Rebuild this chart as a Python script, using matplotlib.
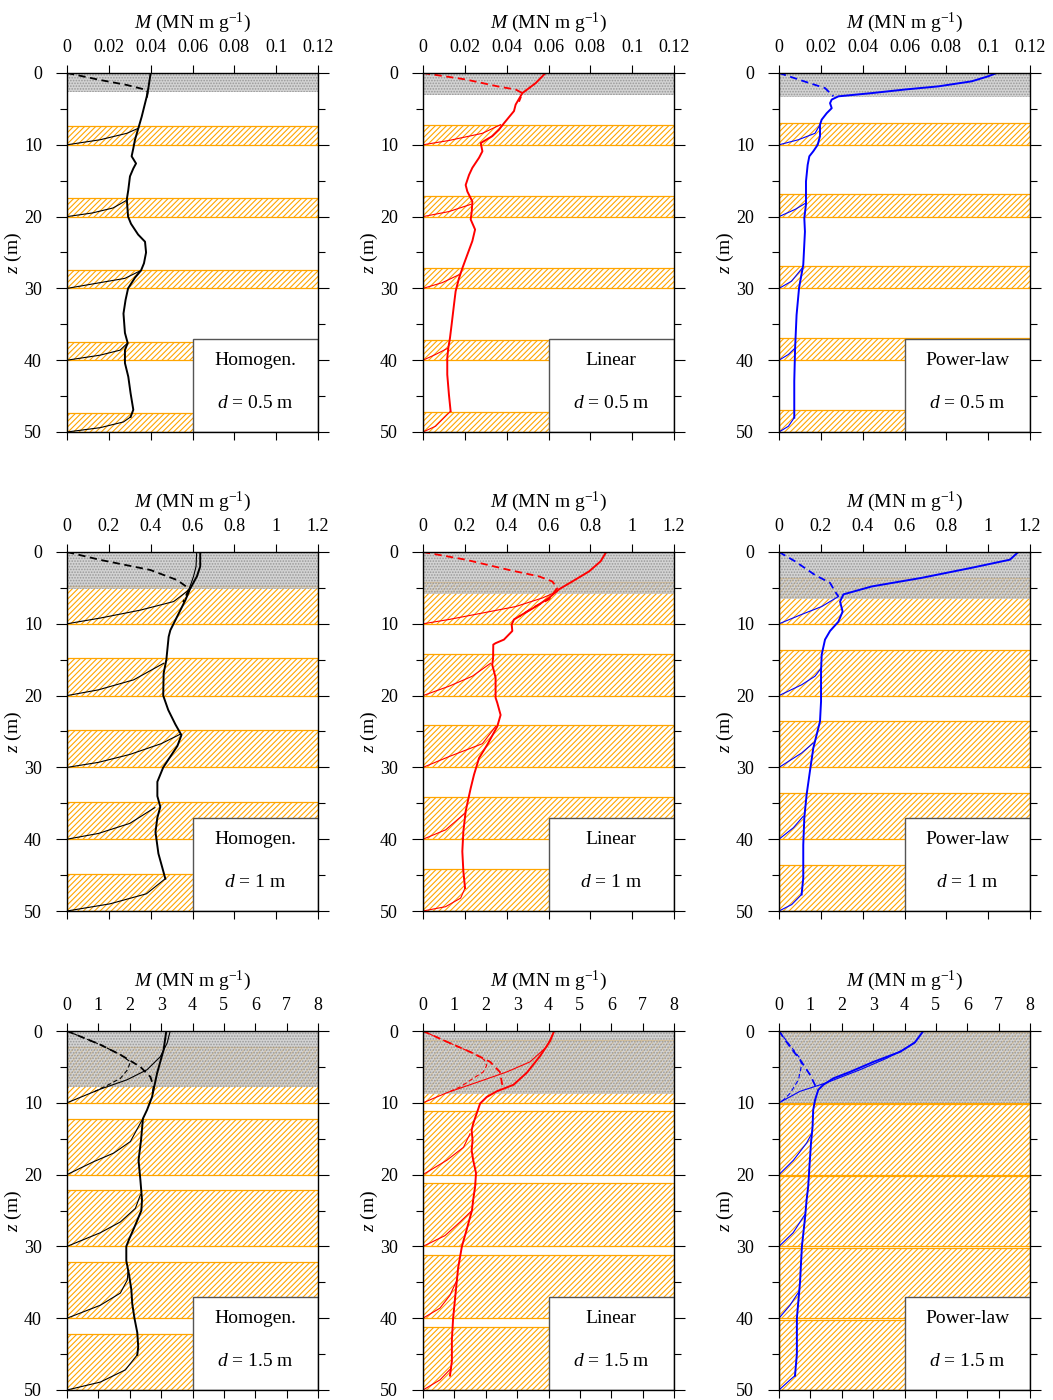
import matplotlib
matplotlib.use('Agg')
import matplotlib.pyplot as plt
from matplotlib.patches import Rectangle

plt.rcParams['font.family'] = ['Liberation Serif', 'DejaVu Serif']
plt.rcParams['mathtext.fontset'] = 'custom'
plt.rcParams['mathtext.rm'] = 'Liberation Serif'
plt.rcParams['mathtext.it'] = 'Liberation Serif:italic'
plt.rcParams['hatch.linewidth'] = 0.8

# profile families (columns) and layer thickness cases (rows)
models = ['Homogen.', 'Linear', 'Power-law']
d_labels = ['0.5', '1', '1.5']
m_max = [0.12, 1.2, 8]
m_ticks = [[0, 0.02, 0.04, 0.06, 0.08, 0.1, 0.12],
           [0, 0.2, 0.4, 0.6, 0.8, 1, 1.2],
           [0, 1, 2, 3, 4, 5, 6, 7, 8]]
colors = ['black', 'red', 'blue']

layer_base = [10, 20, 30, 40, 50]
# hatched layer thickness above each base, rows = d, cols = model
band_thick = [[2.6, 2.8, 3.1],
              [5.2, 5.85, 6.4],
              [7.8, 8.8, 9.8]]
# depth of the stippled top zone
top_zone = [[2.6, 3.0, 3.3],
            [5.1, 5.85, 6.5],
            [7.8, 8.8, 10.0]]

# (M, z) points -------------------------------------------------------
hom05_main = [(0.040, 0), (0.0389, 2.1), (0.0381, 3.3), (0.0357, 6.1), (0.0341, 7.7), (0.0325, 9.3),
              (0.0317, 10.5), (0.0309, 11.6), (0.0330, 12.6), (0.0317, 13.3), (0.0301, 14.4),
              (0.0293, 16.3), (0.0286, 17.6), (0.0292, 20.0), (0.0306, 21.0), (0.0340, 22.5),
              (0.0373, 23.5), (0.0378, 25.0), (0.0368, 26.5), (0.0354, 27.5), (0.0325, 28.5),
              (0.0292, 30.0), (0.0280, 31.6), (0.0270, 33.5), (0.0277, 36.2), (0.0290, 37.6),
              (0.0277, 38.6), (0.0277, 40.4), (0.0293, 42.3), (0.0304, 44.6), (0.0317, 46.9),
              (0.0304, 47.9)]
hom05_branches = [[(0, 10), (0.0158, 9.3), (0.0286, 8.4), (0.0341, 7.7)],
                  [(0, 20), (0.012, 19.5), (0.022, 18.8), (0.0287, 17.7)],
                  [(0, 30), (0.0158, 29.2), (0.0277, 28.6), (0.0354, 27.5)],
                  [(0, 40), (0.0158, 39.3), (0.0254, 38.6), (0.0290, 37.6)],
                  [(0, 50), (0.0158, 49.4), (0.027, 48.6), (0.0304, 47.9)]]
hom05_dashed = [[(0, 0), (0.0158, 0.97), (0.0286, 1.67), (0.0381, 2.37), (0.0386, 2.7), (0.0381, 3.6)]]

lin05_main = [(0.0586, 0), (0.0539, 1.4), (0.0475, 2.8), (0.0443, 4.4), (0.0435, 5.3), (0.0387, 7.0),
              (0.0363, 7.9), (0.0331, 8.8), (0.0276, 9.75), (0.0284, 10.9), (0.0268, 11.8),
              (0.0236, 13.2), (0.0220, 14.2), (0.0204, 15.6), (0.0212, 16.5), (0.0236, 17.9),
              (0.0233, 19.3), (0.0228, 20.4), (0.0249, 21.8), (0.0236, 23.4), (0.0212, 25.3),
              (0.0188, 27.2), (0.0172, 28.6), (0.0156, 30.4), (0.0148, 32.3), (0.0137, 35.0),
              (0.0129, 36.9), (0.0121, 38.3), (0.0116, 39.7), (0.0116, 42.0), (0.0124, 44.8),
              (0.0132, 47.1)]
lin05_branches = [[(0, 10), (0.0124, 9.4), (0.0284, 8.4), (0.0371, 7.2)],
                  [(0, 20), (0.0124, 19.3), (0.0228, 18.3)],
                  [(0, 30), (0.0092, 29.2), (0.0172, 28.1)],
                  [(0, 40), (0.006, 39.2), (0.0121, 38.3)],
                  [(0, 50), (0.006, 49.2), (0.0132, 47.1)]]
lin05_dashed = [[(0, 0), (0.0204, 0.9), (0.0363, 1.9), (0.0443, 2.3), (0.0475, 2.8), (0.0459, 4.0)]]

pow05_main = [(0.104, 0), (0.100, 0.46), (0.0921, 1.16), (0.0762, 1.86), (0.0602, 2.3), (0.0443, 2.8),
              (0.0284, 3.25), (0.0252, 3.7), (0.0244, 4.2), (0.0252, 4.9), (0.0228, 5.6),
              (0.0204, 6.5), (0.0196, 7.2), (0.0196, 8.8), (0.0185, 10.0), (0.0164, 10.9),
              (0.0145, 11.6), (0.0137, 12.8), (0.0129, 15.1), (0.0129, 18.3), (0.0121, 20.2),
              (0.0124, 22.1), (0.0116, 26.7), (0.0096, 29.9), (0.0084, 33.7), (0.0077, 38.3),
              (0.0073, 42.9), (0.0073, 48.0)]
pow05_branches = [[(0, 10), (0.0092, 9.3), (0.0172, 8.4), (0.0196, 7.2)],
                  [(0, 20), (0.0077, 19.0), (0.0129, 18.1)],
                  [(0, 30), (0.006, 29.0), (0.0110, 27.2)],
                  [(0, 40), (0.0045, 39.2), (0.0077, 38.3)],
                  [(0, 50), (0.0045, 49.2), (0.0073, 48.0)]]
pow05_dashed = [[(0, 0), (0.0124, 1.2), (0.022, 2.1), (0.026, 3.25)]]

hom1_main = [(0.637, 0), (0.637, 2.0), (0.621, 3.4), (0.589, 5.1), (0.566, 6.7), (0.542, 8.1),
             (0.518, 9.5), (0.494, 10.9), (0.486, 11.8), (0.475, 15.0), (0.462, 16.9),
             (0.460, 20.0), (0.484, 22.0), (0.518, 24.0), (0.547, 25.5), (0.528, 27.0),
             (0.494, 28.5), (0.460, 30.0), (0.432, 32.0), (0.432, 34.0), (0.446, 35.5),
             (0.432, 37.0), (0.423, 39.0), (0.437, 42.0), (0.456, 44.0), (0.470, 45.5)]
hom1_branches = [[(0, 10), (0.159, 9.2), (0.35, 8.1), (0.51, 6.9), (0.582, 5.3), (0.605, 3.4),
                  (0.617, 2.0), (0.62, 0)],
                 [(0, 20), (0.15, 19.2), (0.319, 17.8), (0.462, 15.5)],
                 [(0, 30), (0.15, 29.3), (0.30, 28.2), (0.45, 26.7), (0.54, 25.4)],
                 [(0, 40), (0.15, 39.2), (0.30, 37.8), (0.42, 35.6)],
                 [(0, 50), (0.206, 49.0), (0.38, 47.6), (0.47, 45.5)]]
hom1_dashed = [[(0, 0), (0.159, 1.1), (0.398, 2.5), (0.526, 3.9), (0.584, 5.1), (0.555, 7.0)]]

lin1_main = [(0.876, 0), (0.849, 1.3), (0.794, 2.7), (0.714, 4.1), (0.650, 5.2), (0.602, 6.4),
             (0.539, 7.6), (0.475, 8.7), (0.435, 9.4), (0.424, 10.1), (0.427, 11.0), (0.387, 12.2),
             (0.347, 12.7), (0.336, 12.9), (0.335, 14.8), (0.331, 15.7), (0.347, 17.5),
             (0.347, 20.3), (0.355, 21.0), (0.371, 22.7), (0.355, 24.3), (0.308, 26.8),
             (0.268, 28.7), (0.244, 31.0), (0.228, 32.9), (0.204, 36.1), (0.193, 38.9),
             (0.188, 41.7), (0.193, 44.5), (0.201, 46.8)]
lin1_branches = [[(0, 10), (0.124, 9.4), (0.284, 8.5), (0.443, 7.6), (0.571, 6.4), (0.642, 5.5)],
                 [(0, 20), (0.124, 18.7), (0.236, 17.3), (0.323, 15.5)],
                 [(0, 30), (0.124, 28.5), (0.284, 26.7), (0.347, 24.3)],
                 [(0, 40), (0.108, 38.7), (0.204, 36.3)],
                 [(0, 50), (0.108, 49.4), (0.18, 48.2), (0.201, 46.8)]]
lin1_dashed = [[(0, 0), (0.204, 1.07), (0.411, 2.5), (0.555, 3.4), (0.618, 4.1), (0.642, 5.0),
                (0.602, 6.6), (0.523, 7.8), (0.459, 9.0)]]

pow1_main = [(1.144, 0), (1.104, 1.07), (0.921, 2.2), (0.682, 3.6), (0.443, 4.8), (0.308, 5.9),
             (0.292, 6.9), (0.304, 8.3), (0.284, 9.7), (0.244, 11.0), (0.220, 12.2), (0.204, 14.3),
             (0.201, 16.6), (0.201, 20.8), (0.196, 23.6), (0.164, 27.3), (0.148, 30.5),
             (0.132, 33.8), (0.121, 37.0), (0.116, 40.8), (0.116, 45.4), (0.108, 47.7)]
pow1_branches = [[(0, 10), (0.108, 8.7), (0.204, 7.6), (0.284, 6.2)],
                 [(0, 20), (0.108, 18.5), (0.172, 17.3), (0.201, 16.2)],
                 [(0, 30), (0.108, 28.0), (0.164, 26.6)],
                 [(0, 40), (0.069, 38.4), (0.116, 36.8)],
                 [(0, 50), (0.061, 49.1), (0.108, 47.7)]]
pow1_dashed = [[(0, 0), (0.077, 1.3), (0.172, 3.2), (0.244, 4.3), (0.268, 5.5), (0.284, 6.2)]]

hom15_main = [(3.165, 0), (3.08, 2.6), (2.87, 5.9), (2.71, 9.2), (2.55, 11.0), (2.42, 12.2),
              (2.36, 15.2), (2.28, 18.0), (2.34, 20.8), (2.39, 23.5), (2.37, 25), (2.18, 27),
              (1.98, 29), (1.89, 30), (1.89, 32), (1.98, 34), (2.05, 36), (2.08, 38), (2.15, 40),
              (2.24, 42), (2.27, 44), (2.24, 45.1)]
hom15_branches = [[(0, 10), (1.06, 8.1), (1.91, 6.8), (2.55, 5.4), (2.97, 3.6), (3.19, 1.7), (3.29, 0)],
                  [(0, 20), (0.85, 18.2), (1.49, 17.0), (2.02, 15.4), (2.28, 13.3), (2.42, 12.2)],
                  [(0, 30), (1.06, 28.1), (1.70, 26.6), (2.18, 24.7), (2.34, 22.8)],
                  [(0, 40), (1.06, 38.2), (1.70, 36.5), (1.92, 34.7), (1.95, 33.3)],
                  [(0, 50), (1.06, 48.9), (1.86, 47.2), (2.24, 45.1)]]
hom15_dashed = [[(0, 0), (1.06, 1.9), (1.70, 3.3), (2.34, 5.0), (2.66, 6.4), (2.76, 7.8), (2.71, 9.2)],
                [(0, 0), (1.06, 1.9), (1.70, 3.3), (2.02, 4.3), (1.93, 5.4), (1.70, 6.6),
                 (1.27, 7.6), (0.8, 8.6)]]

lin15_main = [(4.18, 0), (4.05, 1.4), (3.73, 3.5), (3.31, 5.8), (2.88, 7.5), (2.35, 8.4), (2.03, 9.2),
              (1.82, 10.1), (1.71, 11.5), (1.60, 12.9), (1.55, 13.8), (1.58, 15.2), (1.55, 16.6),
              (1.60, 18.0), (1.69, 19.8), (1.66, 21.7), (1.60, 23.5), (1.56, 25), (1.37, 28),
              (1.24, 30), (1.12, 33), (1.05, 36), (0.96, 40), (0.92, 43), (0.92, 46), (0.86, 48)]
lin15_branches = [[(0, 10), (0.76, 8.6), (1.82, 7.0), (2.67, 5.7), (3.41, 4.3), (3.94, 2.2), (4.12, 0.6)],
                  [(0, 20), (0.76, 18.0), (1.29, 16.2), (1.50, 14.3)],
                  [(0, 30), (0.70, 28.5), (1.18, 26.6), (1.56, 25)],
                  [(0, 40), (0.54, 38.6), (0.86, 36.8), (1.08, 34.7)],
                  [(0, 50), (0.54, 48.6), (0.89, 47.0)]]
lin15_dashed = [[(0, 0), (0.76, 1.5), (1.60, 3.1), (2.14, 4.3), (2.45, 5.7), (2.51, 7.1), (2.55, 8.0)],
                [(0, 0), (0.76, 1.5), (1.60, 3.1), (1.95, 4.0), (2.03, 4.8), (1.92, 5.7), (1.60, 6.6),
                 (1.18, 7.8), (0.76, 8.6)]]

pow15_main = [(4.60, 0), (4.33, 1.6), (3.86, 2.9), (3.01, 4.3), (2.26, 5.7), (1.73, 6.6), (1.41, 7.5),
              (1.25, 8.2), (1.15, 9.6), (1.09, 11.0), (1.07, 13.3), (1.02, 15.6), (0.97, 18.9),
              (0.93, 21.7), (0.88, 23.5), (0.83, 26), (0.73, 30), (0.67, 35), (0.61, 38),
              (0.57, 40), (0.57, 45), (0.51, 48)]
pow15_branches = [[(0, 10), (0.67, 8.4), (1.52, 7.2), (2.58, 5.4), (3.43, 3.8), (3.96, 2.6), (4.33, 1.6)],
                  [(0, 20), (0.46, 18.0), (0.88, 15.6), (1.04, 14.3)],
                  [(0, 30), (0.45, 28.1), (0.82, 25.6)],
                  [(0, 40), (0.35, 38.2), (0.65, 36.2)],
                  [(0, 50), (0.35, 48.6), (0.51, 48.0)]]
pow15_dashed = [[(0, 0), (0.35, 2.2), (0.67, 4.0), (0.99, 6.1), (1.20, 8.0)],
                [(0, 0), (0.35, 2.0), (0.67, 3.8), (0.72, 4.7), (0.62, 6.8), (0.35, 8.7),
                 (0.14, 9.6), (0, 10)]]

profiles = [[(hom05_main, hom05_branches, hom05_dashed),
             (lin05_main, lin05_branches, lin05_dashed),
             (pow05_main, pow05_branches, pow05_dashed)],
            [(hom1_main, hom1_branches, hom1_dashed),
             (lin1_main, lin1_branches, lin1_dashed),
             (pow1_main, pow1_branches, pow1_dashed)],
            [(hom15_main, hom15_branches, hom15_dashed),
             (lin15_main, lin15_branches, lin15_dashed),
             (pow15_main, pow15_branches, pow15_dashed)]]


def xy(pts):
    return [p[0] for p in pts], [p[1] for p in pts]


fig = plt.figure(figsize=(10.53, 14.0), dpi=100)
W, H = 1053.0, 1400.0
col_left = [67, 423, 779]
row_top = [73, 552, 1031]
aw, ah = 251, 359

for r in range(3):
    for c in range(3):
        ax = fig.add_axes([col_left[c] / W, 1 - (row_top[r] + ah) / H, aw / W, ah / H])
        ax.set_xlim(0, m_max[r])
        ax.set_ylim(50, 0)

        # hatched layers and stippled top zone
        for zb in layer_base:
            ax.axhspan(zb - band_thick[r][c], zb, facecolor='white', edgecolor='orange',
                       hatch='//////', lw=0.9, zorder=1)
        ax.axhspan(0, top_zone[r][c], facecolor='#c8c8c8', edgecolor='#8c8c8c', hatch='......',
                   lw=0, alpha=0.8, zorder=2)

        main, branches, dashed = profiles[r][c]
        col = colors[c]
        for b in branches:
            ax.plot(*xy(b), color=col, lw=0.8, zorder=3)
        for i, dsh in enumerate(dashed):
            ax.plot(*xy(dsh), color=col, lw=1.3 if i == 0 else 0.8, ls=(0, (4, 2.5)), zorder=3)
        ax.plot(*xy(main), color=col, lw=1.4, zorder=3)

        # label box
        ax.add_patch(Rectangle((0.5, 0), 0.5, 13 / 50, transform=ax.transAxes, facecolor='white',
                               edgecolor='#555555', lw=1.0, zorder=4))
        ax.text(0.75, 0.198, models[c], transform=ax.transAxes, ha='center', va='center',
                fontsize=14, zorder=5)
        ax.text(0.75, 0.08, r'$d$ = ' + d_labels[r] + ' m', transform=ax.transAxes,
                ha='center', va='center', fontsize=14, zorder=5)

        ax.set_xticks(m_ticks[r])
        ax.set_xticklabels(['{:g}'.format(t) for t in m_ticks[r]])
        ax.set_yticks([0, 10, 20, 30, 40, 50])
        ax.set_yticks([5, 15, 25, 35, 45], minor=True)
        ax.xaxis.set_label_position('top')
        ax.tick_params(axis='x', which='both', top=True, bottom=True, labeltop=True,
                       labelbottom=False, direction='out', length=6, width=0.8,
                       labelsize=13, pad=6)
        ax.tick_params(axis='y', which='major', left=True, right=True, direction='out',
                       length=8, width=0.8, labelsize=13, pad=10)
        ax.tick_params(axis='y', which='minor', left=True, right=True, direction='out',
                       length=5, width=0.8)
        ax.set_xlabel(r'$M$ (MN m g$^{\mathrm{-1}}$)', fontsize=14, labelpad=8)
        ax.set_ylabel(r'$z$ (m)', fontsize=14)
        ax.yaxis.set_label_coords(-0.17, 0.5)
        for s in ax.spines.values():
            s.set_linewidth(1.0)
            s.set_zorder(6)

fig.savefig('out.png', dpi=100)
